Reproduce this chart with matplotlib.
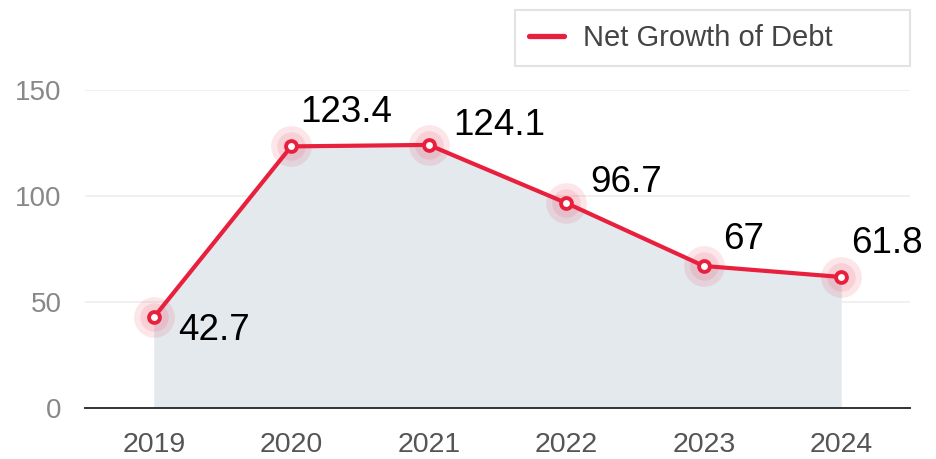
import matplotlib
matplotlib.use("Agg")
import matplotlib.pyplot as plt
from matplotlib.lines import Line2D

plt.rcParams['font.family'] = ['Liberation Sans', 'DejaVu Sans']

years = ["2019", "2020", "2021", "2022", "2023", "2024"]
values = [42.7, 123.4, 124.1, 96.7, 67, 61.8]
series_name = "Net Growth of Debt"
y_ticks = [0, 50, 100, 150]

# label offsets in pixels (dx, dy) relative to the point — layout only
label_offsets = [(24, -13), (9, 34), (24, 19), (24, 20), (19, 26), (10, 33)]

RED = "#E8203E"
FILL = "#E4E9EE"

fig = plt.figure(figsize=(9.36, 4.59), dpi=100)
ax = fig.add_axes([85/936, 1 - 408/459, 825/936, 318/459])

x = list(range(len(years)))
ax.fill_between(x, 0, values, color=FILL, zorder=1, linewidth=0)
ax.plot(x, values, color=RED, linewidth=3.0, zorder=3, solid_capstyle='round')
ax.scatter(x, values, s=860, color=RED, alpha=0.11, linewidths=0, zorder=2.5, clip_on=False)
ax.scatter(x, values, s=420, color=RED, alpha=0.11, linewidths=0, zorder=2.6, clip_on=False)
ax.plot(x, values, linestyle='none', marker='o', markersize=7.8, markerfacecolor='white',
        markeredgecolor=RED, markeredgewidth=2.8, zorder=4, clip_on=False)

px = 72 / 100
for xi, v, (dx, dy) in zip(x, values, label_offsets):
    ax.annotate(f"{v:g}", (xi, v), xytext=(dx * px, dy * px), textcoords='offset points',
                ha='left', va='center', fontsize=26.5, color='black', zorder=5,
                annotation_clip=False)

ax.set_xlim(-0.5, 5.5)
ax.set_ylim(0, 150)
ax.set_xticks(x)
ax.set_xticklabels(years)
ax.set_yticks(y_ticks)
ax.tick_params(axis='x', length=0, pad=17, labelsize=20.5, labelcolor='#555555')
ax.tick_params(axis='y', length=0, pad=17, labelsize=20, labelcolor='#888888')
ax.yaxis.grid(True, color='#EEEEEE', linewidth=1.2, zorder=0)
ax.set_axisbelow(True)
for s in ['top', 'right', 'left']:
    ax.spines[s].set_visible(False)
ax.spines['bottom'].set_color('#333333')
ax.spines['bottom'].set_linewidth(1.4)
ax.spines['bottom'].set_zorder(3.5)

handle = Line2D([], [], color=RED, linewidth=3.8, solid_capstyle='round')
leg = fig.legend([handle], [series_name], loc='upper left', mode='expand',
                 bbox_to_anchor=(515/936, 1 - 64/459, 395/936, 54/459), frameon=True,
                 fancybox=False, fontsize=21, handlelength=1.2, handletextpad=0.65,
                 borderpad=0.48, labelcolor='#444444', borderaxespad=0)
leg.get_frame().set_edgecolor('#DDDDDD')
leg.get_frame().set_linewidth(1.5)

fig.savefig("out.png", dpi=100)
